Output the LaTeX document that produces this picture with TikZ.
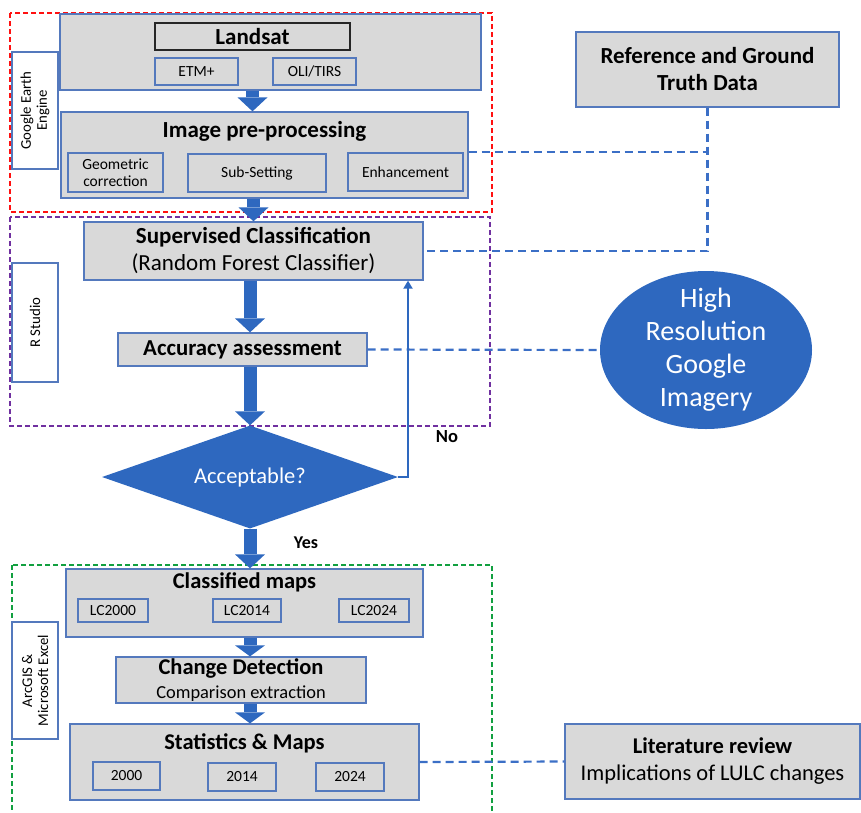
\documentclass[tikz,border=0pt]{standalone}
\usepackage{fontspec}
\setmainfont{Carlito}
\usetikzlibrary{arrows.meta,shapes.geometric}
\definecolor{BoxGray}{HTML}{D9D9D9}
\definecolor{BoxEdge}{HTML}{5479BD}
\definecolor{FlowBlue}{HTML}{2E68BF}
\definecolor{LinkBlue}{HTML}{3B6FC6}
\definecolor{GeeRed}{HTML}{FF1010}
\definecolor{RPurple}{HTML}{7030A0}
\definecolor{ArcGreen}{HTML}{12A040}
\newcommand{\px}[2]{\fontsize{#1}{#2}\selectfont}

\begin{document}
\begin{tikzpicture}[x=1pt,y=-1pt,>=Latex,line cap=butt,line join=miter,
  box/.style={draw=BoxEdge,fill=BoxGray,line width=1.3pt,inner sep=0pt},
  subbox/.style={box,align=center,font=\px{15.5}{16.5}},
  toolbox/.style={draw=BoxEdge,fill=white,line width=1.3pt,inner sep=0pt,rotate=90,
    align=center,minimum width=117,minimum height=46,font=\px{14.8}{16}},
  headtext/.style={inner sep=0pt,font=\px{22.5}{24}\bfseries},
  flow/.style={draw=FlowBlue,line width=13pt,-{Triangle[width=30pt,length=14pt,line width=0pt]}},
  link/.style={draw=LinkBlue,line width=2.2pt,dash pattern=on 8pt off 5pt},
  zone/.style={line width=2pt,dash pattern=on 5pt off 3pt}]

% page = 861 x 812 px, 1 px = 1 pt
\clip (0,0) rectangle (861,812);

% ---- TOOL ZONES ----
\draw[zone,draw=GeeRed] (10,13) rectangle (492,212);
\draw[zone,draw=RPurple] (10,217) rectangle (490,426);
\draw[zone,draw=ArcGreen] (12,565) rectangle (492,820);

\node[toolbox] (gee) at (35,110.5) {Google Earth\\Engine};
\node[toolbox,minimum width=119] (rstudio) at (35,322.5) {R Studio};
\node[toolbox] (arcgis) at (35,680.5) {ArcGIS \&\\Microsoft Excel};

% ---- LANDSAT ----
\node[box,minimum width=421,minimum height=76] (landsatbox) at (270.5,52) {};
\node[box,draw=black!85,line width=1.5pt,minimum width=195,minimum height=27,
  font=\px{23}{24}\bfseries] (landsat) at (252.5,36.5) {Landsat};
\node[subbox,minimum width=83,minimum height=27] (etm) at (196.5,71.5) {ETM+};
\node[subbox,minimum width=83,minimum height=27] (oli) at (314.5,71.5) {OLI/TIRS};

% ---- PRE-PROCESSING ----
\node[box,minimum width=407,minimum height=86] (prepbox) at (264.5,155) {};
\node[headtext,font=\px{23}{24}\bfseries] (prephead) at (264.5,131) {Image pre-processing};
\node[subbox,minimum width=95,minimum height=39] (geo) at (115.5,172.5) {Geometric\\correction};
\node[subbox,minimum width=138,minimum height=38] (subset) at (257,173) {Sub-Setting};
\node[subbox,minimum width=115,minimum height=38] (enh) at (405.5,172) {Enhancement};

% ---- REFERENCE DATA ----
\node[box,minimum width=263,minimum height=75,align=center,
  font=\px{23}{27}\bfseries] (ref) at (707.5,69.5) {Reference and Ground\\Truth Data};

% ---- CLASSIFICATION ----
\node[box,minimum width=339,minimum height=58,align=center,font=\px{23}{27}]
  (sup) at (253.5,251) {\textbf{Supervised Classification}\\(Random Forest Classifier)};
\node[box,minimum width=249,minimum height=33,font=\px{22.8}{24}\bfseries]
  (acc) at (242.5,349.5) {Accuracy assessment};

\node[ellipse,fill=FlowBlue,minimum width=212,minimum height=158,inner sep=0pt] (hri) at (706,350) {};
\node[align=center,text=white,font=\px{28}{33}] (hritext) at (hri) {High\\Resolution\\Google\\Imagery};

\node[diamond,aspect=2.87,fill=FlowBlue,minimum width=296,minimum height=103,inner sep=0pt,
  text=white,font=\px{22.5}{24}] (dec) at (250,477) {Acceptable?};

% ---- OUTPUTS ----
\node[box,minimum width=357,minimum height=68] (clsbox) at (244.5,603) {};
\node[headtext] (clshead) at (244.5,582) {Classified maps};
\node[subbox,minimum width=70,minimum height=23] (lc00) at (113,610.5) {LC2000};
\node[subbox,minimum width=68,minimum height=23] (lc14) at (247,610.5) {LC2014};
\node[subbox,minimum width=70,minimum height=23] (lc24) at (374,610.5) {LC2024};

\node[box,minimum width=250,minimum height=46,align=center,font=\px{18.4}{24}]
  (chg) at (241,680) {{\px{22.5}{24}\bfseries Change Detection}\\Comparison extraction};

\node[box,minimum width=349,minimum height=76] (statbox) at (244.5,762) {};
\node[headtext] (stathead) at (244.5,743) {Statistics \& Maps};
\node[subbox,minimum width=67,minimum height=28] (y00) at (126.5,776) {2000};
\node[subbox,minimum width=68,minimum height=28] (y14) at (242,777) {2014};
\node[subbox,minimum width=68,minimum height=28] (y24) at (350,777) {2024};

\node[box,minimum width=295,minimum height=75,align=center,font=\px{22.5}{27}]
  (lit) at (712.5,761.5) {\textbf{Literature review}\\Implications of LULC changes};

% ---- DASHED LINKS ----
\draw[link] (prepbox.east |- enh.north) -- (ref.south |- enh.north);
\draw[link] (ref.south) |- (sup.east);
\draw[link] (acc.east) -- (hri.west);
\draw[link] (statbox.east) -- (lit.west);

% ---- FLOW ARROWS ----
\draw[flow] (landsatbox.south -| landsat.south) -- (prepbox.north -| landsat.south);
\draw[flow] (prepbox.south -| sup.south) -- (sup.north);
\draw[flow] (sup.south -| dec.north) -- (acc.north -| dec.north);
\draw[flow] (acc.south -| dec.north) -- (dec.north);
\draw[flow] (dec.south) -- (clsbox.north -| dec.south);
\draw[flow,-{Triangle[width=30pt,length=11pt,line width=0pt]}] (clsbox.south -| dec.south) -- (chg.north -| dec.south);
\draw[flow,-{Triangle[width=30pt,length=11pt,line width=0pt]}] (chg.south -| dec.south) -- (statbox.north -| dec.south);

% No loop back to classification
\coordinate (nocol) at (408,0);
\draw[draw=FlowBlue,line width=2.5pt,-{Triangle[width=9pt,length=8pt]}] (dec.east) -| (nocol |- sup.south);
\node[font=\px{18.5}{20}\bfseries] (no) at (447,437) {No};
\node[font=\px{18}{20}\bfseries] (yes) at (306,543) {Yes};

\end{tikzpicture}
\end{document}
